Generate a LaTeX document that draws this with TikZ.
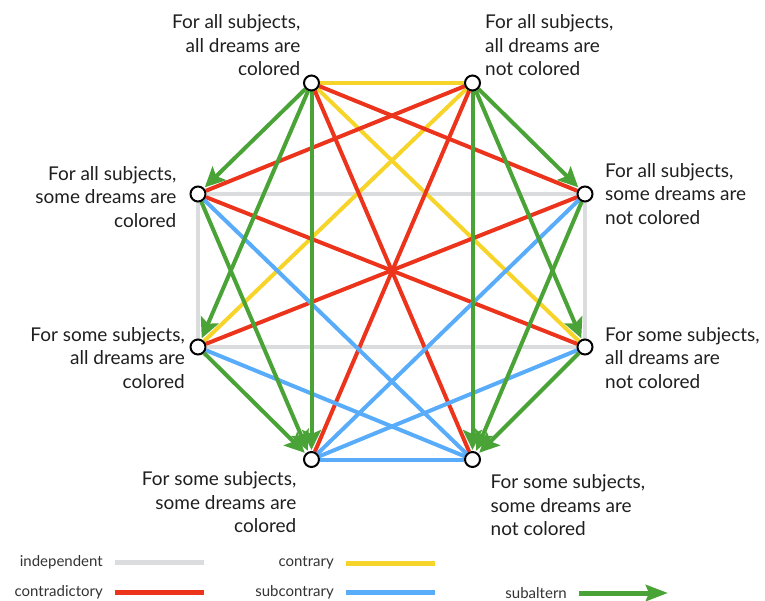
\documentclass[tikz,border=0pt]{standalone}
\usepackage{fontspec}
\setmainfont{Lato}
\usetikzlibrary{positioning, arrows.meta, backgrounds}

\definecolor{indepgray}{RGB}{219,220,221}
\definecolor{contradred}{RGB}{236,52,28}
\definecolor{contryellow}{RGB}{246,212,42}
\definecolor{subcblue}{RGB}{88,172,250}
\definecolor{subaltgreen}{RGB}{74,163,54}

\begin{document}
\begin{tikzpicture}[x=1pt, y=-1pt,
    prop/.style={circle, draw=black, fill=white, line width=2pt, minimum size=15pt, inner sep=0pt},
    lbl/.style={font=\fontsize{19}{23.5}\selectfont, text=black!88, inner sep=0pt},
    key/.style={font=\fontsize{15}{16}\selectfont, text=black!80, inner sep=0pt},
    indep/.style={draw=indepgray, line width=4pt},
    contrad/.style={draw=contradred, line width=4pt},
    contr/.style={draw=contryellow, line width=4pt},
    subcontr/.style={draw=subcblue, line width=4pt},
    subalt/.style={draw=subaltgreen, line width=4pt, -{Stealth[length=20pt, width=19pt, inset=4pt]}, shorten >=1pt}]

    \useasboundingbox (0,0) rectangle (765,601); % same size as the reference image

    % the eight propositions, set on an octagon
    \node[prop] (allAll)       at (311.5, 83) {};
    \node[prop] (allAllNot)    at (472.5, 83) {};
    \node[prop] (allSome)      at (198, 194) {};
    \node[prop] (allSomeNot)   at (585, 194) {};
    \node[prop] (someAll)      at (198, 347) {};
    \node[prop] (someAllNot)   at (585, 347) {};
    \node[prop] (someSome)     at (311.5, 459.5) {};
    \node[prop] (someSomeNot)  at (472.5, 459.5) {};

    % their texts
    \node[lbl, align=right, above left=1pt and 5pt of allAll] (tAllAll) {For all subjects,\\all dreams are\\colored};
    \node[lbl, align=left, above right=1pt and 6.5pt of allAllNot] (tAllAllNot) {For all subjects,\\all dreams are\\not colored};
    \node[lbl, align=right, left=13pt of allSome, yshift=-3pt] (tAllSome) {For all subjects,\\some dreams are\\colored};
    \node[lbl, align=left, right=11.5pt of allSomeNot] (tAllSomeNot) {For all subjects,\\some dreams are\\not colored};
    \node[lbl, align=right, left=4.5pt of someAll, yshift=-11pt] (tSomeAll) {For some subjects,\\all dreams are\\colored};
    \node[lbl, align=left, right=11.5pt of someAllNot, yshift=-11pt] (tSomeAllNot) {For some subjects,\\all dreams are\\not colored};
    \node[lbl, align=right, below left=6pt and 9pt of someSome] (tSomeSome) {For some subjects,\\some dreams are\\colored};
    \node[lbl, align=left, below right=9pt and 12pt of someSomeNot] (tSomeSomeNot) {For some subjects,\\some dreams are\\not colored};

    % the relations, kept behind the circles
    \begin{scope}[on background layer]
        \draw[indep] (allSome) -- (allSomeNot) -- (someAllNot) -- (someAll) -- (allSome);

        \foreach \s/\t in {allAll/allAllNot, allAll/someAllNot, allAllNot/someAll}
            \draw[contr] (\s) -- (\t);

        \foreach \s/\t in {allAll/allSomeNot, allAll/someSomeNot, allAllNot/allSome,
                           allAllNot/someSome, allSome/someAllNot, allSomeNot/someAll}
            \draw[contrad] (\s) -- (\t);

        \foreach \s/\t in {someSome/someSomeNot, allSome/someSomeNot, allSomeNot/someSome,
                           someAll/someSomeNot, someAllNot/someSome}
            \draw[subcontr] (\s) -- (\t);

        \foreach \s/\t in {allAll/allSome, allAll/someAll, allAll/someSome, allSome/someSome,
                           someAll/someSome, allAllNot/allSomeNot, allAllNot/someAllNot,
                           allAllNot/someSomeNot, allSomeNot/someSomeNot, someAllNot/someSomeNot}
            \draw[subalt] (\s) -- (\t);
    \end{scope}

    % key
    \node[key, anchor=east] (kIndep)     at (103, 562) {independent};
    \node[key, anchor=east] (kContrad)   at (103, 592) {contradictory};
    \node[key, anchor=east] (kContr)     at (334, 563) {contrary};
    \node[key, anchor=east] (kSubcontr)  at (334, 592) {subcontrary};
    \node[key, anchor=east] (kSubalt)    at (567, 593) {subaltern};

    \foreach \k in {Indep, Contrad, Contr, Subcontr, Subalt} {
        \coordinate[right=12pt of k\k.east] (k\k A);
        \coordinate[right=89pt of k\k A] (k\k B);
    }
    \draw[indep, line width=5pt]    (kIndepA) -- (kIndepB);
    \draw[contrad, line width=5pt]  (kContradA) -- (kContradB);
    \draw[contr, line width=5pt]    (kContrA) -- (kContrB);
    \draw[subcontr, line width=5pt] (kSubcontrA) -- (kSubcontrB);
    \draw[subalt, line width=5pt, shorten >=0pt, -{Stealth[length=22pt, width=16pt, inset=3pt]}] (kSubaltA) -- (kSubaltB);

\end{tikzpicture}
\end{document}
